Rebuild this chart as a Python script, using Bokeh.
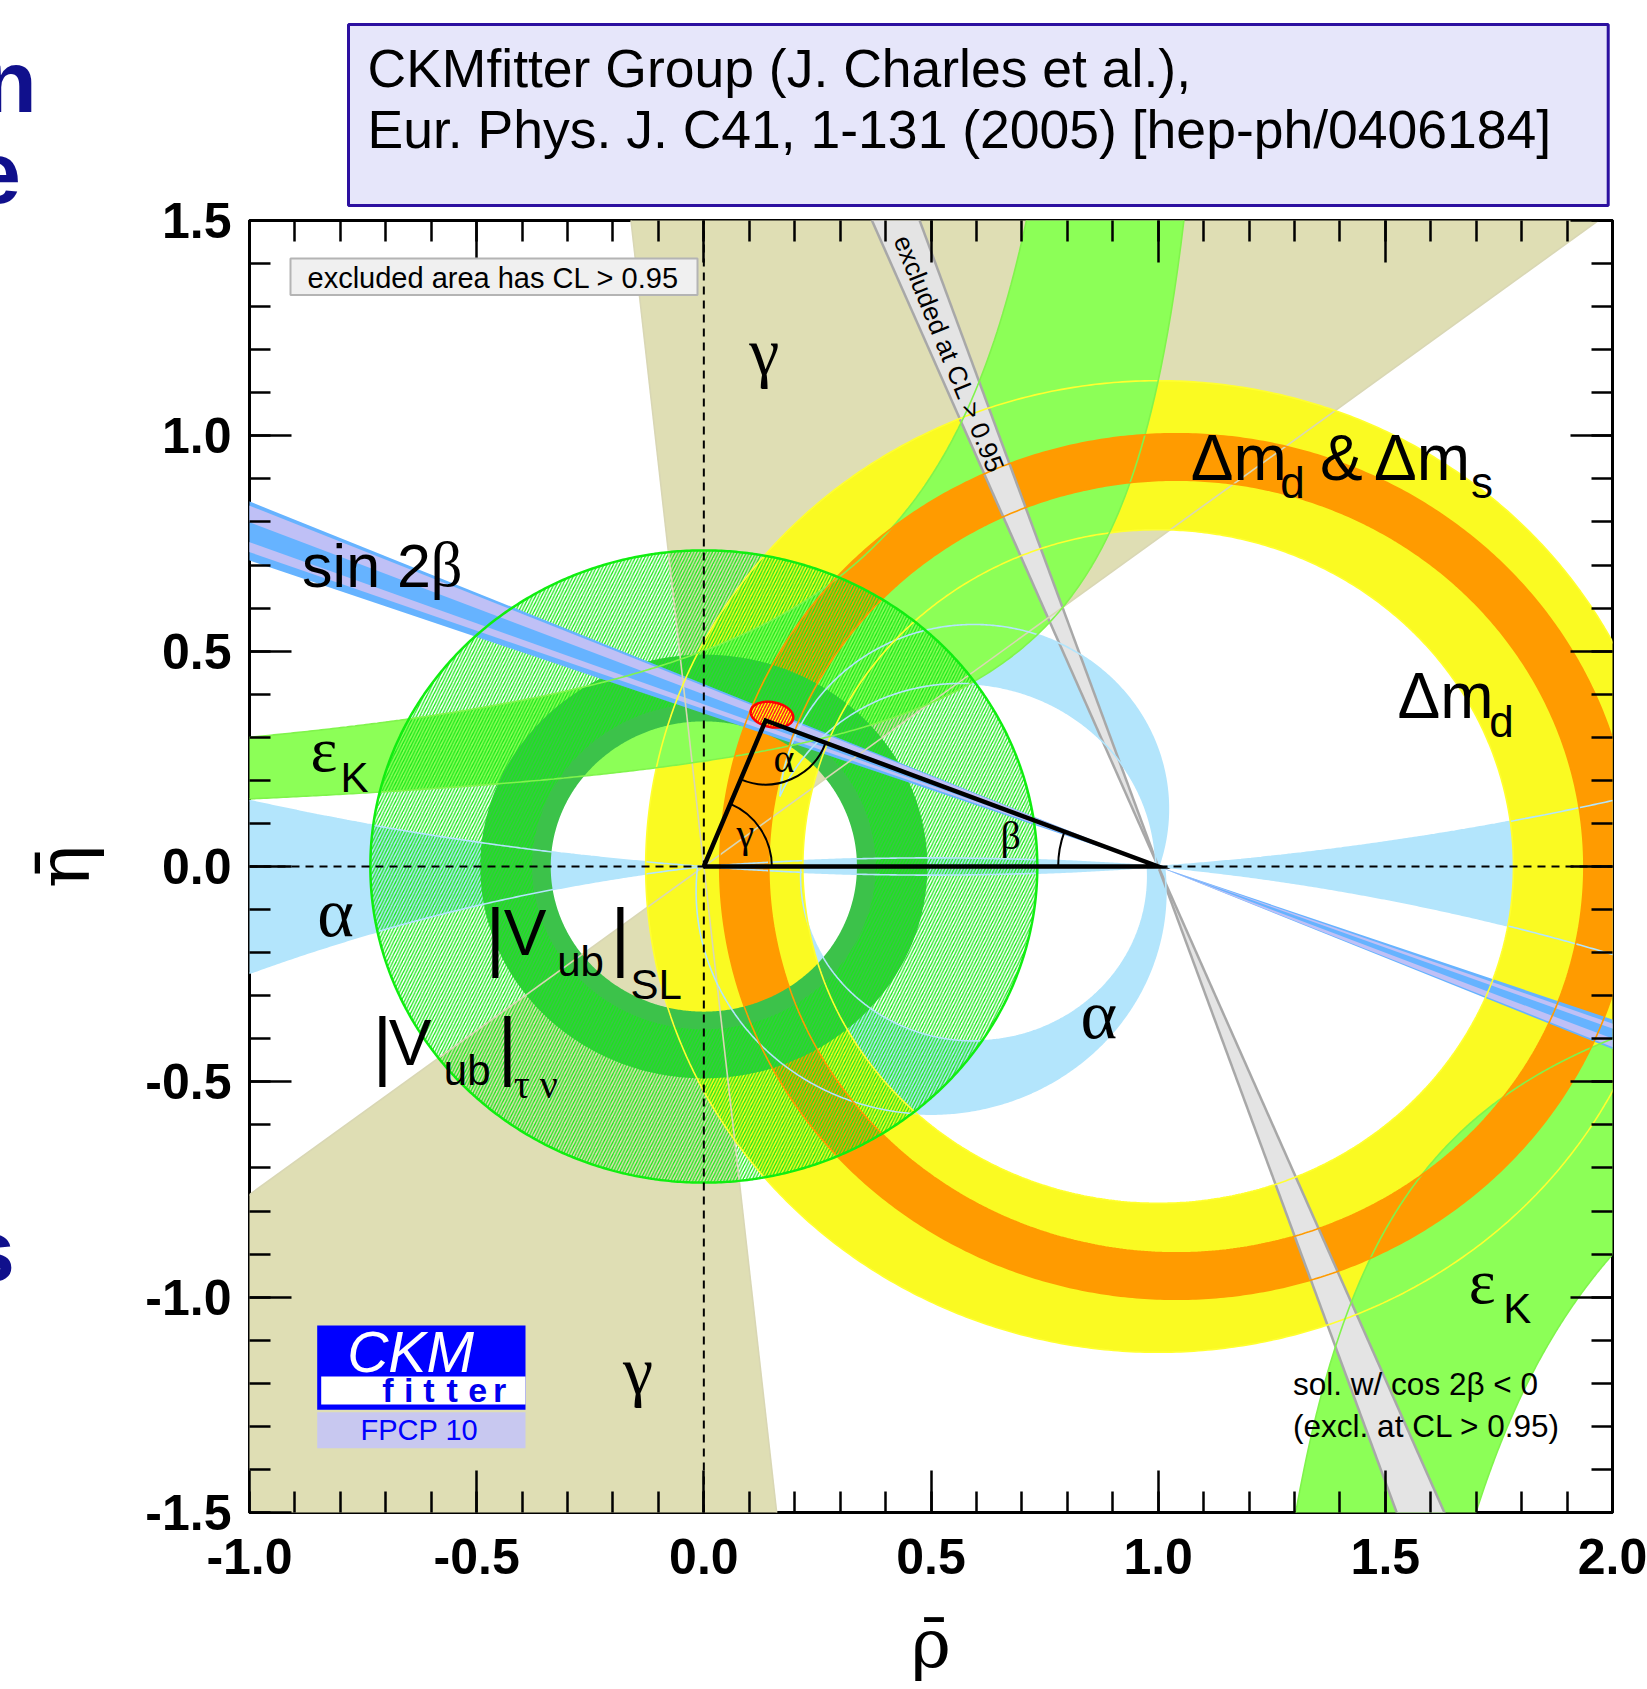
import numpy as np
from bokeh.plotting import figure
from bokeh.models import (Label, BoxAnnotation, LinearAxis, FixedTicker, Div,
                          PrintfTickFormatter, CustomJSTickFormatter)
from bokeh.layouts import column
from bokeh.embed import file_html
from bokeh.resources import INLINE

# ================= values =================
rho_range = (-1.0, 2.0)
eta_range = (-1.5, 1.5)
x_major = [-1.0, -0.5, 0.0, 0.5, 1.0, 1.5, 2.0]
y_major = [-1.5, -1.0, -0.5, 0.0, 0.5, 1.0, 1.5]
x_minor = [round(-1.0 + 0.1 * i, 1) for i in range(31)]
y_minor = [round(-1.5 + 0.1 * i, 1) for i in range(31)]

apex = [0.136, 0.339]                            # fitted apex (rho, eta)
apex_cl = [0.150, 0.3525, 0.0475, 0.029, -12.0]  # centre, half axes, tilt
gamma_edges_deg = [37.3, 96.1]                   # gamma double wedge at origin
dmd_centre = [1.00, 0.0]
dmd_radii = [0.782, 1.128]                       # Delta m_d (yellow)
dms_centre = [1.04, 0.0]
dms_radii = [0.897, 1.005]                       # Delta m_d & Delta m_s (orange)
vub_sl_radii = [0.337, 0.492]                    # |Vub| SL
vub_taunu_radii = [0.378, 0.734]                 # |Vub| tau nu (hatched)
s2b_eta_at_rho_m1 = [0.7105, 0.8475]             # sin 2beta band edges at rho=-1
s2b_light_strips = [[0.7995, 0.838], [0.730, 0.753]]
cos2b_drho_deta = [-0.42, -0.35]                 # excluded cos2beta<0 band
epsk_upper = [[0.399, 0.995, 0.10], [0.2376, 1.2205, 0.05]]   # k, rho0, c
epsk_lower = [[0.380, 1.0495, 0.0], [0.678, 1.2475, 0.0]]
alpha_wedge_cy = [6.61, -4.157, -5.0]            # iso-alpha circle centres
alpha_strip_cy = 6.24
alpha_lune_up = [[0.5945, 0.134, 0.428], [0.564, -0.006, 0.431]]
alpha_lune_dn = [[0.500, -0.058, 0.517], [0.595, -0.023, 0.382]]

# ================= colours / fonts =================
TAN = "#dfdeb4"
EPSK = "#8cff57"
YELLOW = "#fafa22"
ORANGE = "#ff9b00"
ALPHA = "#b3e5fc"
S2B = "#66b3ff"
S2B_LIGHT = "#bfc0f6"
SLG = "#3cc24a"
TAUNU = "#18e818"
GREY = "#e4e4e4"
GREY_EDGE = "#a8a8a8"
SANS = "Liberation Sans"
SERIF = "Liberation Serif"
AXSERIF = "DejaVu Serif"

FW, FH = 1363, 1292
SX, SY = FW / 3.0, FH / 3.0
X0, Y0 = 249.0, 220.0          # page pixel of the frame's top-left corner


def P(xf, yf):
    return (xf - X0) / SX - 1.0, 1.5 - (yf - Y0) / SY


p = figure(x_range=rho_range, y_range=eta_range, frame_width=FW, frame_height=FH,
           min_border_left=249, min_border_right=35, min_border_top=220,
           min_border_bottom=174, output_backend="svg", toolbar_location=None)
p.xgrid.visible = False
p.ygrid.visible = False
p.outline_line_color = "black"
p.outline_line_width = 3
p.background_fill_color = "white"
p.border_fill_color = "white"
bottom_ax = p.below[0]
left_ax = p.left[0]


# ================= geometry helpers =================
def circle(cx, cy, r, n=721):
    t = np.linspace(0, 2 * np.pi, n)
    return cx + r * np.cos(t), cy + r * np.sin(t)


def arc(cx, cy, r, t0, t1, n=400):
    t = np.linspace(t0, t1, n)
    return cx + r * np.cos(t), cy + r * np.sin(t)


def ring(c, radii):
    xo, yo = circle(c[0], c[1], radii[1])
    xi, yi = circle(c[0], c[1], radii[0])
    return [[list(xo), list(xi[::-1])]], [[list(yo), list(yi[::-1])]]


def iso_alpha(cy, rho):
    s = np.sqrt(0.25 + cy ** 2 - (rho - 0.5) ** 2)
    return cy - s if cy > 0 else cy + s


def circ_intersections(c1, c2):
    (x1, y1, r1), (x2, y2, r2) = c1, c2
    dx, dy = x2 - x1, y2 - y1
    d = np.hypot(dx, dy)
    a = (r1 ** 2 - r2 ** 2 + d ** 2) / (2 * d)
    h = np.sqrt(max(r1 ** 2 - a ** 2, 0.0))
    px, py = x1 + a * dx / d, y1 + a * dy / d
    q1 = (px + h * dy / d, py - h * dx / d)
    q2 = (px - h * dy / d, py + h * dx / d)
    return sorted([q1, q2], key=lambda q: -q[0])


def patch(xs, ys, color, **kw):
    p.patch(list(map(float, xs)), list(map(float, ys)), fill_color=color,
            line_color=None, **kw)


contours = []


def contour(xs, ys, color, width=1.6):
    contours.append((list(map(float, xs)), list(map(float, ys)), color, width))


# ================= gamma (tan double wedge) =================
g0, g1 = gamma_edges_deg
for a0, a1 in [(g0, g1), (g0 + 180, g1 + 180)]:
    a = np.radians(np.linspace(a0, a1, 30))
    patch([0.0] + list(6 * np.cos(a)), [0.0] + list(6 * np.sin(a)), TAN)
for a in gamma_edges_deg:
    r = np.radians(a)
    contour([-6 * np.cos(r), 6 * np.cos(r)], [-6 * np.sin(r), 6 * np.sin(r)], "#d9d7b4", 1.6)

# ================= alpha (light blue) =================
cu, cll, clr = alpha_wedge_cy
rl = np.linspace(-1.1, 0.0, 200)
patch(np.r_[rl, rl[::-1]], np.r_[iso_alpha(cu, rl), iso_alpha(cll, rl)[::-1]], ALPHA)
contour(rl, iso_alpha(cu, rl), ALPHA)
contour(rl, iso_alpha(cll, rl), ALPHA)
rr = np.linspace(1.0, 2.1, 200)
patch(np.r_[rr, rr[::-1]], np.r_[iso_alpha(cu, rr), iso_alpha(clr, rr)[::-1]], ALPHA)
contour(rr, iso_alpha(cu, rr), ALPHA)
contour(rr, iso_alpha(clr, rr), ALPHA)
rs = np.linspace(0.0, 1.0, 200)
patch(np.r_[rs, rs[::-1]], np.r_[iso_alpha(-alpha_strip_cy, rs), iso_alpha(alpha_strip_cy, rs)[::-1]], ALPHA)
contour(rs, iso_alpha(-alpha_strip_cy, rs), ALPHA)
contour(rs, iso_alpha(alpha_strip_cy, rs), ALPHA)

o, i = alpha_lune_up
qr, ql = circ_intersections(o, i)
t1 = np.arctan2(qr[1] - o[1], qr[0] - o[0])
t2 = np.arctan2(ql[1] - o[1], ql[0] - o[0])
if t2 < t1:
    t2 += 2 * np.pi
xo, yo = arc(o[0], o[1], o[2], t1, t2)
u2 = np.arctan2(ql[1] - i[1], ql[0] - i[0])
u1 = np.arctan2(qr[1] - i[1], qr[0] - i[0])
if u1 > u2:
    u1 -= 2 * np.pi
xi, yi = arc(i[0], i[1], i[2], u2, u1)
patch(np.r_[xo, xi], np.r_[yo, yi], ALPHA)
contour(xo, yo, ALPHA)
contour(xi, yi, ALPHA)

o, i = alpha_lune_dn
tR = np.arcsin(-o[1] / o[2])
xo, yo = arc(o[0], o[1], o[2], tR, np.pi - tR - 2 * np.pi)
uR = np.arcsin(-i[1] / i[2])
xi, yi = arc(i[0], i[1], i[2], np.pi - uR, uR + 2 * np.pi)
patch(np.r_[xo, xi], np.r_[yo, yi], ALPHA)
contour(xo, yo, ALPHA)
contour(xi, yi, ALPHA)

# ================= Delta m_d (yellow) =================
xs, ys = ring(dmd_centre, dmd_radii)
p.multi_polygons(xs=[xs], ys=[ys], fill_color=YELLOW, line_color=None)
for r in dmd_radii:
    cx, cy = circle(dmd_centre[0], dmd_centre[1], r)
    contour(cx, cy, "#ffff30", 1.6)

# ================= epsilon_K (green hyperbola bands) =================
(kA, rA, cA), (kB, rB, cB) = epsk_upper
ra = np.linspace(-1.1, rA - kA / (1.65 - cA), 300)
rb = np.linspace(-1.1, rB - kB / (1.65 - cB), 300)
ea, eb = kA / (rA - ra) + cA, kB / (rB - rb) + cB
patch(np.r_[ra, rb[::-1]], np.r_[ea, eb[::-1]], EPSK)
contour(ra, ea, "#80f44c")
contour(rb, eb, "#80f44c")
(kC, rC, cC), (kD, rD, cD) = epsk_lower
rc = np.linspace(rC + kC / (1.65 + cC), 2.1, 300)
rd = np.linspace(rD + kD / (1.65 + cD), 2.1, 300)
ec, ed = kC / (rC - rc) + cC, kD / (rD - rd) + cD
patch(np.r_[rc, rd[::-1]], np.r_[ec, ed[::-1]], EPSK)
contour(rc, ec, "#80f44c")
contour(rd, ed, "#80f44c")

# ================= Delta m_d & Delta m_s (orange) =================
xs, ys = ring(dms_centre, dms_radii)
p.multi_polygons(xs=[xs], ys=[ys], fill_color=ORANGE, line_color=None)
for r in dms_radii:
    cx, cy = circle(dms_centre[0], dms_centre[1], r)
    contour(cx, cy, ORANGE, 1.6)

# ================= |Vub| SL (solid green ring) =================
xs, ys = ring([0.0, 0.0], vub_sl_radii)
p.multi_polygons(xs=[xs], ys=[ys], fill_color=SLG, line_color=None)

# ================= |Vub| tau nu (hatched ring) =================
xo, yo = circle(0.0, 0.0, vub_taunu_radii[1])
xi, yi = circle(0.0, 0.0, vub_taunu_radii[0])
p.patch(list(np.r_[xo, xi[::-1]]), list(np.r_[yo, yi[::-1]]), fill_color="white",
        fill_alpha=0.0, line_color=None, hatch_pattern="/", hatch_color=TAUNU,
        hatch_scale=6.2, hatch_weight=1.25, hatch_alpha=1.0)


# ================= sin 2beta (blue band through (1,0)) =================
def s2b_wedges(h_lo, h_hi, color):
    patch([1.0, -1.6, -1.6], [0.0, h_lo * 1.3, h_hi * 1.3], color)
    patch([1.0, 2.6, 2.6], [0.0, -h_lo * 0.8, -h_hi * 0.8], color)


s2b_wedges(s2b_eta_at_rho_m1[0], s2b_eta_at_rho_m1[1], S2B)
for lo, hi in s2b_light_strips:
    s2b_wedges(lo, hi, S2B_LIGHT)

# ================= excluded cos 2beta < 0 solution (grey) =================
s1, s2 = cos2b_drho_deta
patch([1.0, 1 + s1 * 1.7, 1 + s2 * 1.7], [0.0, 1.7, 1.7], GREY)
patch([1.0, 1 - s1 * 1.7, 1 - s2 * 1.7], [0.0, -1.7, -1.7], GREY)
for s in cos2b_drho_deta:
    p.line([1 + s * 1.7, 1 - s * 1.7], [1.7, -1.7], line_color=GREY_EDGE, line_width=2.5)

# ================= thin contour lines on top =================
for cx, cy, col, w in contours:
    p.line(cx, cy, line_color=col, line_width=w)
cx, cy = circle(0.0, 0.0, vub_taunu_radii[1])
p.line(list(cx), list(cy), line_color="#10ee10", line_width=2.5)

# ================= apex CL region =================
ex, ey, ea_, eb_, et = apex_cl
tt = np.linspace(0, 2 * np.pi, 120)
ph = np.radians(et)
bx = ex + ea_ * np.cos(tt) * np.cos(ph) - eb_ * np.sin(tt) * np.sin(ph)
by = ey + ea_ * np.cos(tt) * np.sin(ph) + eb_ * np.sin(tt) * np.cos(ph)
p.patch(list(bx), list(by), fill_color="#ffff00", line_color="#ff0000", line_width=2.5,
        hatch_pattern="/", hatch_color="#ff2020", hatch_scale=6, hatch_weight=1.5)

# ================= dashed zero lines =================
p.line([0.0, 0.0], [eta_range[0], eta_range[1]], line_color="black", line_width=2,
       line_dash="8 6")
p.line([rho_range[0], rho_range[1]], [0.0, 0.0], line_color="black", line_width=2,
       line_dash="8 6")

# ================= unitarity triangle and its angles =================
ax_, ay_ = apex
p.line([0.0, 1.0, ax_, 0.0], [0.0, 0.0, ay_, 0.0], line_color="black", line_width=4.5,
       line_join="miter")


def sang(dx, dy):
    return float(np.arctan2(dy * SY, dx * SX))


p.arc(x=[ax_, 0.0, 1.0], y=[ay_, 0.0, 0.0], radius=[64, 68, 100], radius_units="screen",
      start_angle=[sang(-ax_, -ay_), 0.0, sang(ax_ - 1, ay_)],
      end_angle=[sang(1 - ax_, -ay_), sang(ax_, ay_), np.pi],
      line_color="black", line_width=2)


# ================= axes =================
def style_axis(axis, ticks, minor, labels):
    axis.ticker = FixedTicker(ticks=ticks, minor_ticks=minor)
    axis.axis_line_color = None
    axis.major_tick_in = 42
    axis.major_tick_out = 0
    axis.minor_tick_in = 21
    axis.minor_tick_out = 0
    axis.major_tick_line_width = 2.5
    axis.minor_tick_line_width = 2.5
    axis.major_tick_line_color = "black"
    axis.minor_tick_line_color = "black"
    if labels:
        axis.formatter = PrintfTickFormatter(format="%.1f")
        axis.major_label_text_font = SANS
        axis.major_label_text_font_style = "bold"
        axis.major_label_text_font_size = "50px"
        axis.major_label_text_color = "black"
    else:
        axis.formatter = CustomJSTickFormatter(code="return ''")
        axis.major_label_text_font_size = "1px"
        axis.major_label_standoff = 0


top_ax = LinearAxis()
right_ax = LinearAxis()
p.add_layout(top_ax, "above")
p.add_layout(right_ax, "right")
style_axis(bottom_ax, x_major, x_minor, True)
style_axis(top_ax, x_major, x_minor, False)
style_axis(left_ax, y_major, y_minor, True)
style_axis(right_ax, y_major, y_minor, False)
bottom_ax.major_label_standoff = 26
left_ax.major_label_standoff = 18
for ax, txt, size, so in [(bottom_ax, "\u03c1\u0304", 68, 27),
                          (left_ax, "\u03b7\u0304", 72, 36)]:
    ax.axis_label = txt
    ax.axis_label_text_font = AXSERIF
    ax.axis_label_text_font_size = f"{size}px"
    ax.axis_label_text_font_style = "normal"
    ax.axis_label_text_color = "black"
    ax.axis_label_standoff = so

# ================= title box =================
p.title.text = ("CKMfitter Group (J. Charles et al.),\n"
                "Eur. Phys. J. C41, 1-131 (2005) [hep-ph/0406184]")
p.title.align = "left"
p.title.offset = 99
p.title.text_font = SANS
p.title.text_font_size = "53.5px"
p.title.text_font_style = "normal"
p.title.text_color = "black"
p.title.text_line_height = 1.05
p.title.background_fill_color = "#e6e6fa"
p.title.border_line_color = "#2c10a0"
p.title.border_line_width = 3
p.title.padding = (19, 57, 14, 46)     # left, right, top, bottom
p.title.standoff = 30


# ================= annotations inside the frame =================
def box(x0f, y0f, x1f, y1f, fill, line=None, lw=0):
    l, t = P(x0f, y0f)
    r, b = P(x1f, y1f)
    p.add_layout(BoxAnnotation(left=l, right=r, top=t, bottom=b, fill_color=fill,
                               fill_alpha=1.0, line_color=line, line_width=lw,
                               line_alpha=1.0 if line else 0.0))


BASE_SHIFT = 0.35   # rendered alphabetic baseline sits this many em lower


def label(xf, yf, s, size, font=SANS, color="black", style="normal",
          align="left", baseline="alphabetic", angle=0.0):
    if baseline == "alphabetic":
        yf = yf - BASE_SHIFT * size
    x, y = P(xf, yf)
    p.add_layout(Label(x=x, y=y, text=s, text_font=font, text_font_size=f"{size}px",
                       text_color=color, text_font_style=style, text_align=align,
                       text_baseline=baseline, angle=angle, angle_units="deg"))


# legend box
box(290, 258, 697, 294.5, "#f0f0f0", "#b4b4b4", 2)
label(307, 287.2, "excluded area has CL > 0.95", 29)

# grey band label
label(901, 236, "excluded at CL > 0.95", 26, angle=-67.9, baseline="middle")

# constraint labels
label(748.7, 375, "\u03b3", 68, font=SERIF)
label(622.6, 1394, "\u03b3", 68, font=SERIF)
label(301.6, 587, "sin 2", 61)
label(430, 587, "\u03b2", 63, font=SERIF)
label(310, 771.7, "\u03b5", 64, font=SERIF)
label(340, 791.7, "K", 42)
label(316.7, 936.7, "\u03b1", 70, font=SERIF)
label(1080, 1038.3, "\u03b1", 70, font=SERIF)
# |Vub|_SL
label(485, 962, "|", 76)
label(503.3, 955, "V", 64)
label(556.7, 976, "ub", 42)
label(610, 962, "|", 76)
label(630, 998.3, "SL", 42)
# |Vub|_tau nu
label(372, 1070.7, "|", 76)
label(388.3, 1065, "V", 64)
label(443.3, 1085, "ub", 42)
label(497, 1070.7, "|", 76)
label(513.3, 1098.3, "\u03c4 \u03bd", 40, font=SERIF)
# Delta m_d & Delta m_s
label(1190.3, 479.4, "\u0394m", 64)
label(1279.7, 497.4, "d", 44)
label(1319.6, 479.4, "&", 64)
label(1373.4, 479.4, "\u0394m", 64)
label(1470.4, 497.4, "s", 44)
# Delta m_d
label(1397.1, 718, "\u0394m", 64)
label(1488.7, 736, "d", 44)
# epsilon_K lower right
label(1468.2, 1303.4, "\u03b5", 64, font=SERIF)
label(1502.7, 1322.8, "K", 42)
# cos 2beta note
label(1292.6, 1394.5, "sol. w/ cos 2\u03b2 < 0", 31.5)
label(1292.6, 1436.6, "(excl. at CL > 0.95)", 31.5)
# triangle angle labels
label(773, 772, "\u03b1", 40, font=SERIF)
label(736, 847, "\u03b3", 40, font=SERIF)
label(1000, 849, "\u03b2", 40, font=SERIF)

# CKMfitter logo
box(316.7, 1325, 525, 1409.3, "#0000ff")
box(320.7, 1376, 525, 1404, "#ffffff")
box(316.7, 1411.7, 525, 1447.7, "#c8c8f0")
label(346.7, 1371.5, "CKM", 57, color="white", style="italic")
for ch, xc in zip("fitter", [387.3, 408.3, 428.3, 451.7, 477.3, 499.0]):
    label(xc, 1401.7, ch, 34, color="#0000ee", style="bold", align="center")
label(360, 1439.3, "FPCP 10", 29, color="#0000ff")

# ================= slide letters cut by the page's left edge =================
# (char, left px, baseline px); line box of 60px => baseline = top + 60.5
letters = [("n", -17.0, 112.0), ("e", -28.0, 203.0), ("s", -34.0, 1281.0)]
html = "".join(
    f'<span style="position:fixed; left:{lx}px; top:{by - 60.5}px; margin:0; padding:0; '
    f'font-family:\'Liberation Sans\'; font-weight:bold; font-size:88px; '
    f'line-height:60px; color:#10108c; white-space:nowrap;">{ch}</span>'
    for ch, lx, by in letters)
overlay = Div(text=html, width=20, height=1, styles={"overflow": "visible"})

open("out.html", "w").write(file_html(column(p, overlay), INLINE))
